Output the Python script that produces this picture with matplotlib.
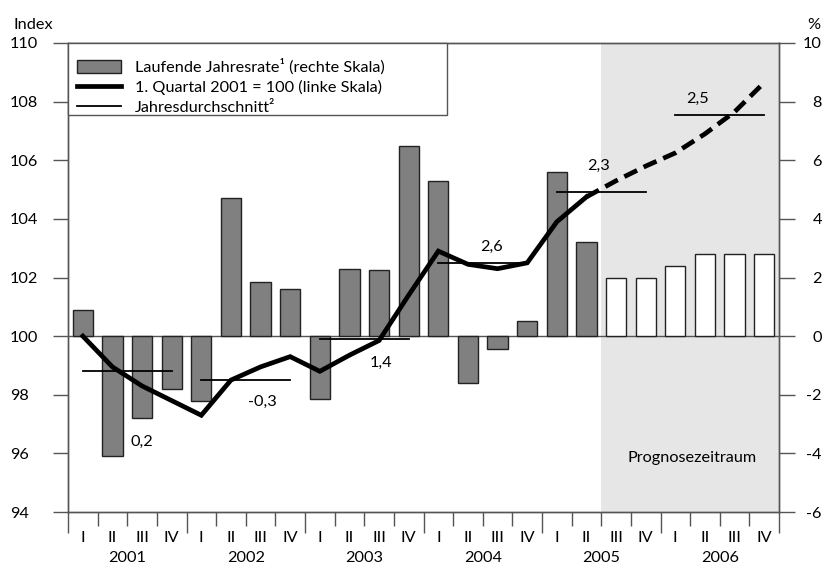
import matplotlib
matplotlib.use("Agg")
import matplotlib.pyplot as plt
from matplotlib.patches import Patch, Rectangle
from matplotlib.lines import Line2D

plt.rcParams['font.family'] = ['Lato', 'DejaVu Sans']

# data
quarters = ['I', 'II', 'III', 'IV'] * 6
years = ['2001', '2002', '2003', '2004', '2005', '2006']
rate = [0.9, -4.1, -2.8, -1.8, -2.2, 4.7, 1.85, 1.6, -2.15, 2.3, 2.25, 6.5,
        5.3, -1.6, -0.45, 0.5, 5.6, 3.2, 2.0, 2.0, 2.4, 2.8, 2.8, 2.8]
index = [100.0, 98.95, 98.3, 97.8, 97.3, 98.5, 98.95, 99.3, 98.8, 99.35, 99.85, 101.4,
         102.9, 102.45, 102.3, 102.5, 103.9, 104.75, 105.3, 105.8, 106.25, 106.9, 107.65, 108.65]
year_avg = [98.8, 98.5, 99.9, 102.5, 104.9, 107.55]
year_growth = ['0,2', '-0,3', '1,4', '2,6', '2,3', '2,5']
n_actual = 18  # first forecast quarter is 2005 III

# label positions (x in quarters, y on left scale)
growth_pos = [(2.0, 96.4), (6.05, 97.75), (10.05, 99.1), (13.8, 103.05), (17.4, 105.8), (20.75, 108.1)]

fs = 11.7
grey = '#808080'
axc = '#555555'

fig = plt.figure(figsize=(8.24, 5.67), dpi=100)
ax = fig.add_axes([68 / 824, 55 / 567, 711 / 824, 469 / 567])
ax2 = ax.twinx()

x = list(range(len(rate)))

# forecast area
ax.axvspan(n_actual - 0.5, len(rate) - 0.5, color='#e6e6e6', zorder=0, lw=0)
ax.axhline(0, color=axc, lw=1, zorder=1)

face = [grey if i < n_actual else 'white' for i in x]
ax.bar(x, rate, width=0.68, color=face, edgecolor='#222222', linewidth=1, zorder=2)

ax.set_xlim(-0.5, len(rate) - 0.5)
ax.set_ylim(-6, 10)
ax2.set_ylim(94, 110)

# index line
ax2.plot(x[:n_actual], index[:n_actual], color='black', lw=3.4, solid_joinstyle='miter', zorder=4)
ax2.plot(x[n_actual - 1:], index[n_actual - 1:], color='black', lw=3.4,
         linestyle=(0, (3.0, 1.55)), zorder=4)

# yearly averages
for k, v in enumerate(year_avg):
    ax2.plot([4 * k, 4 * k + 3], [v, v], color='black', lw=1.3, zorder=3)
for lab, (px, py) in zip(year_growth, growth_pos):
    ax2.text(px, py, lab, ha='center', va='center', fontsize=fs)

ax2.text(20.55, 95.85, 'Prognosezeitraum', ha='center', va='center', fontsize=fs)

# y axes
ax.yaxis.tick_right()
ax2.yaxis.tick_left()
ax.set_yticks(range(-6, 11, 2), labels=[str(v) for v in range(-6, 11, 2)], ha='right')
ax2.set_yticks(range(94, 111, 2), labels=[str(v) for v in range(94, 111, 2)], ha='left')
ax.tick_params(axis='y', length=11.5, width=1, color=axc, pad=19.4, labelsize=fs)
ax2.tick_params(axis='y', length=11, width=1, color=axc, pad=31, labelsize=fs)

# x axis: quarter boundaries
ax.set_xticks([4 * k - 0.5 for k in range(7)], labels=[''] * 7)
ax.set_xticks([q - 0.5 for q in range(25)], minor=True)
ax.tick_params(axis='x', which='major', length=15, width=1, color=axc)
ax.tick_params(axis='x', which='minor', length=10, width=1, color=axc)
for i, q in enumerate(quarters):
    ax.annotate(q, xy=(i, 0), xycoords=('data', 'axes fraction'), xytext=(0, -18.7),
                textcoords='offset points', ha='center', va='center', fontsize=fs)
for k, yr in enumerate(years):
    ax.annotate(yr, xy=(4 * k + 1.5, 0), xycoords=('data', 'axes fraction'), xytext=(0, -33),
                textcoords='offset points', ha='center', va='center', fontsize=fs)

for a in (ax, ax2):
    for s in a.spines.values():
        s.set_color(axc)
        s.set_linewidth(1)

fig.text(33 / 824, 1 - 25 / 567, 'Index', ha='center', va='center', fontsize=fs)
fig.text(814 / 824, 1 - 25 / 567, '%', ha='center', va='center', fontsize=fs)

# legend box drawn separately so the rows can sit low in it
box = Rectangle((0, (512 - 115) / 469), 379 / 711, 1 - (512 - 115) / 469, transform=ax2.transAxes,
                facecolor='white', edgecolor=axc, linewidth=1, zorder=9, clip_on=False)
ax2.add_patch(box)

handles = [Patch(facecolor=grey, edgecolor='#222222', linewidth=1),
           Line2D([], [], color='black', lw=3.4),
           Line2D([], [], color='black', lw=1.3)]
labels = ['Laufende Jahresrate¹ (rechte Skala)',
          '1. Quartal 2001 = 100 (linke Skala)',
          'Jahresdurchschnitt²']
leg = ax2.legend(handles, labels, loc='center left', bbox_to_anchor=(9 / 711, (512 - 87) / 469),
                 borderaxespad=0, borderpad=0, frameon=False, fontsize=fs,
                 handlelength=2.7, handletextpad=0.85, labelspacing=0.3, handleheight=0.85)
leg.set_zorder(10)

fig.savefig('out.png', dpi=100)
